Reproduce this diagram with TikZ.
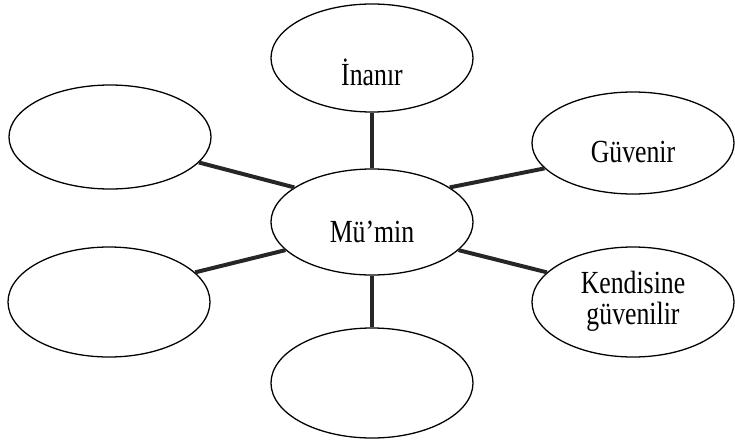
\documentclass[tikz,border=0pt]{standalone}
\usepackage{fontspec}
\setmainfont{Liberation Serif}
\usetikzlibrary{shapes.geometric}
\tikzset{
  balon/.style={ellipse,draw,line width=1.1pt,minimum width=6.06cm,minimum height=3.2cm,inner sep=0pt},
  yazi/.style={font=\fontsize{22}{21}\selectfont,align=center,yscale=1.25,transform shape},
  bag/.style={line width=3.4pt,black!85}
}
\begin{document}
\begin{tikzpicture}[x=0.03cm,y=-0.03cm]
    \useasboundingbox (0,0) rectangle (735,443);
    \node[balon,minimum height=3.18cm,label={[yshift=-0.3cm,yazi]center:Mü'min}] (mumin) at (372,222) {};
    \node[balon,minimum height=3.24cm,label={[yshift=-0.42cm,yazi]center:İnanır}] (inanir) at (372,58) {};
    \node[balon,minimum height=3.06cm,label={[yshift=-0.27cm,yazi]center:Güvenir}] (guvenir) at (633,143) {};
    \node[balon,minimum height=3.3cm,label={[yshift=0.03cm,yazi]center:{Kendisine\\güvenilir}}] (kendisine) at (633,302) {};
    \node[balon,minimum height=3.12cm] (solust) at (110,137) {};
    \node[balon,minimum height=3.3cm] (solalt) at (109,302) {};
    \node[balon,minimum height=3.3cm] (alt) at (372,383) {};
    \draw[bag] (inanir) -- (mumin);
    \draw[bag] (mumin) -- (alt);
    \draw[bag] (mumin.24) -- (guvenir.196);
    \draw[bag] (mumin.-18) -- (kendisine.161);
    \draw[bag] (mumin.156) -- (solust.-16);
    \draw[bag] (mumin.198) -- (solalt.19);
\end{tikzpicture}
\end{document}
